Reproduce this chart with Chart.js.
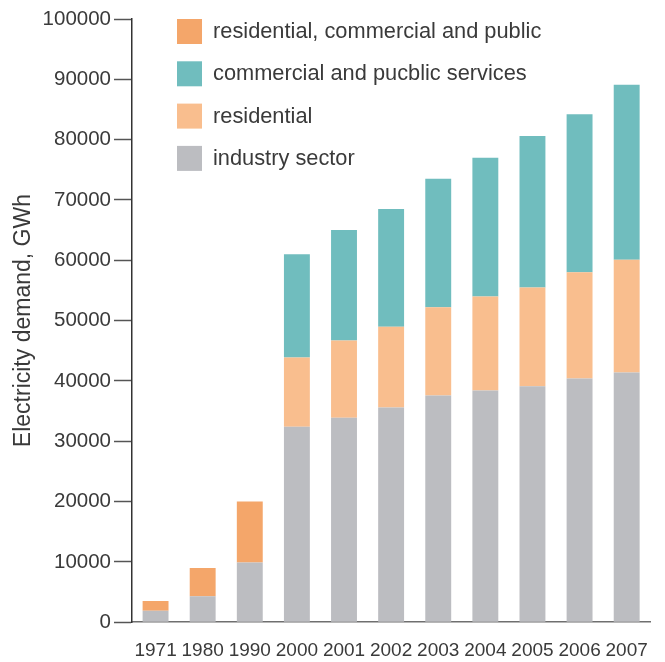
<!DOCTYPE html>
<html>
<head>
<meta charset="utf-8">
<script src="https://cdn.jsdelivr.net/npm/chart.js@4"></script>
<style>
  html, body { margin: 0; padding: 0; background: #fff; }
  #wrap { width: 665px; height: 662px; }
</style>
</head>
<body>
<div id="wrap"><canvas id="demandChart"></canvas></div>
<script>
// Electricity demand by sector, GWh
const years = ['1971', '1980', '1990', '2000', '2001', '2002', '2003', '2004', '2005', '2006', '2007'];
const industry = [1900, 4300, 9900, 32400, 33900, 35600, 37600, 38400, 39100, 40400, 41400];
const residential = [null, null, null, 11500, 12800, 13400, 14600, 15600, 16400, 17600, 18700];
const commercial = [null, null, null, 17100, 18300, 19500, 21300, 23000, 25100, 26200, 29000];
const combined = [1600, 4700, 10100, null, null, null, null, null, null, null, null];
const yTicks = [0, 10000, 20000, 30000, 40000, 50000, 60000, 70000, 80000, 90000, 100000];

const FONT = '"Liberation Sans", Arial, Helvetica, sans-serif';
const TEXT = '#3a3a3a';

// Legend drawn inside the plot, top-left, topmost series first
const insideLegend = {
    id: 'insideLegend',
    afterDraw(chart) {
        const { ctx, chartArea } = chart;
        const items = chart.data.datasets.slice().reverse();
        ctx.save();
        ctx.font = '21.8px ' + FONT;
        ctx.textBaseline = 'middle';
        items.forEach((ds, i) => {
            const y = chartArea.top + i * 42.3;
            ctx.fillStyle = ds.backgroundColor;
            ctx.fillRect(chartArea.left + 45, y, 25, 25);
            ctx.fillStyle = TEXT;
            ctx.fillText(ds.label, chartArea.left + 81, y + 13);
        });
        ctx.restore();
    }
};

new Chart(document.getElementById('demandChart'), {
    type: 'bar',
    data: {
        labels: years,
        datasets: [
            { label: 'industry sector', data: industry, backgroundColor: '#BCBDC1' },
            { label: 'residential', data: residential, backgroundColor: '#F9BE8E' },
            { label: 'commercial and pucblic services', data: commercial, backgroundColor: '#70BDBE' },
            { label: 'residential, commercial and public', data: combined, backgroundColor: '#F4A66A' }
        ]
    },
    options: {
        responsive: true,
        maintainAspectRatio: false,
        animation: false,
        layout: { padding: { top: 19, right: 4, left: 0, bottom: -17 } },
        datasets: {
            bar: { categoryPercentage: 1, barPercentage: 0.55, borderWidth: 0 }
        },
        plugins: {
            legend: { display: false },
            tooltip: { enabled: false }
        },
        scales: {
            x: {
                stacked: true,
                offset: true,
                grid: { display: false, drawTicks: false },
                border: { display: true, color: '#6f6f6f', width: 1.5 },
                ticks: {
                    color: TEXT,
                    font: { family: FONT, size: 19 },
                    padding: 17,
                    maxRotation: 0,
                    autoSkip: false
                }
            },
            y: {
                stacked: true,
                min: 0,
                max: 100000,
                afterBuildTicks(axis) {
                    axis.ticks = yTicks.map(v => ({ value: v }));
                },
                grid: {
                    drawOnChartArea: false,
                    drawTicks: true,
                    tickLength: 18,
                    tickColor: '#555',
                    tickWidth: 1.5
                },
                border: { display: true, color: '#333', width: 1.5 },
                ticks: {
                    color: TEXT,
                    font: { family: FONT, size: 20.5 },
                    padding: 3,
                    callback: v => String(v)
                },
                title: {
                    display: true,
                    text: 'Electricity demand, GWh',
                    color: TEXT,
                    font: { family: FONT, size: 23, weight: 'normal' },
                    padding: { top: 10, bottom: 2 }
                }
            }
        }
    },
    plugins: [insideLegend]
});
</script>
</body>
</html>
